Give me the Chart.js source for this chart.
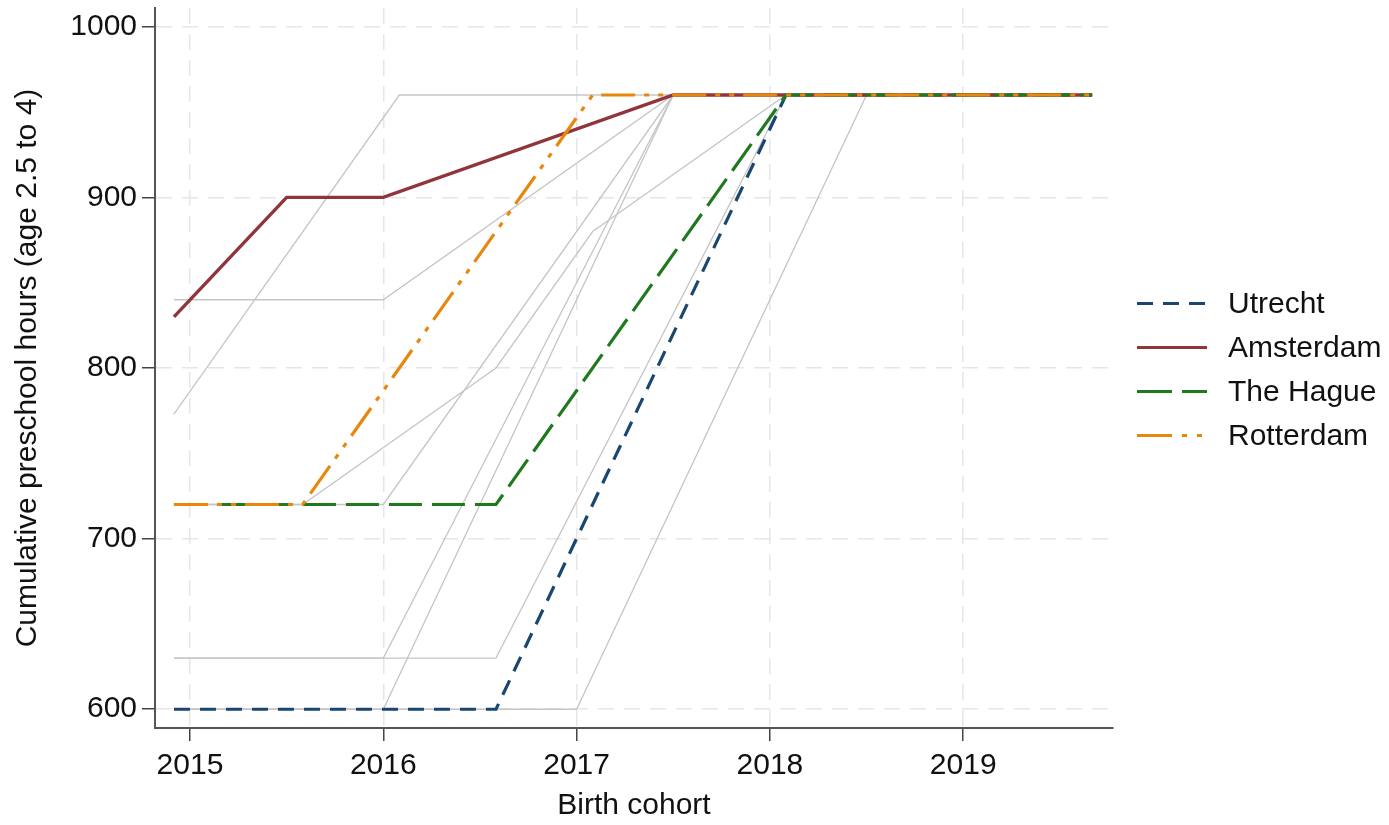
<!DOCTYPE html>
<html><head><meta charset="utf-8">
<script src="https://cdn.jsdelivr.net/npm/chart.js@4.4.1/dist/chart.umd.min.js"></script>
<style>html,body{margin:0;padding:0;background:#fff}canvas{display:block}</style>
</head><body>
<canvas id="c" width="1389" height="825"></canvas>
<script>
// ---- tick labels ----
const xTicks = [2015, 2016, 2017, 2018, 2019];
const yTicks = [600, 700, 800, 900, 1000];

// ---- highlighted cities (birth cohort -> cumulative hours) ----
const cityNames = ['Utrecht', 'Amsterdam', 'The Hague', 'Rotterdam'];
const utrechtX   = [2014.917, 2016.583, 2018.083, 2019.667];
const utrechtY   = [600, 600, 960, 960];
const amsterdamX = [2014.917, 2015.5, 2016.0, 2017.5, 2019.667];
const amsterdamY = [830, 900, 900, 960, 960];
const hagueX     = [2014.917, 2016.583, 2018.083, 2019.667];
const hagueY     = [720, 720, 960, 960];
const rotterdamX = [2014.917, 2015.583, 2017.083, 2019.667];
const rotterdamY = [720, 720, 960, 960];

// ---- other municipalities (grey background lines) ----
const other1X = [2014.917, 2016.0, 2017.5, 2019.667];
const other1Y = [840, 840, 960, 960];
const other2X = [2014.917, 2016.083, 2019.667];
const other2Y = [773, 960, 960];
const other3X = [2014.917, 2016.583, 2018.083, 2019.667];
const other3Y = [630, 630, 960, 960];
const other4X = [2014.917, 2016.0, 2017.5, 2019.667];
const other4Y = [720, 720, 960, 960];
const other5X = [2014.917, 2015.583, 2016.583, 2017.083, 2018.083, 2019.667];
const other5Y = [720, 720, 800, 880, 960, 960];
const other6X = [2014.917, 2016.0, 2017.5, 2019.667];
const other6Y = [600, 600, 960, 960];
const other7X = [2014.917, 2016.0, 2017.5, 2019.667];
const other7Y = [630, 630, 960, 960];
const other8X = [2014.917, 2017.0, 2018.5, 2019.667];
const other8Y = [600, 600, 960, 960];

const zip = (xs, ys) => xs.map((x, i) => ({x: x, y: ys[i]}));

const FONT = '"Liberation Sans", Arial, Helvetica, sans-serif';
Chart.defaults.font.family = FONT;
Chart.defaults.color = '#111';

const greyPairs = [[other1X,other1Y],[other2X,other2Y],[other3X,other3Y],[other4X,other4Y],
                   [other5X,other5Y],[other6X,other6Y],[other7X,other7Y],[other8X,other8Y]];
const greySets = greyPairs.map((p, i) => ({
  label: 'other' + (i+1), data: zip(p[0], p[1]), borderColor: '#c6c6c6', borderWidth: 1.3,
  pointRadius: 0, order: 10, legend: false
}));

const hl = [
  {label: cityNames[0], data: zip(utrechtX, utrechtY), borderColor: '#1a476f', borderWidth: 3.2,
   borderDash: [16, 10], legendDash: [16, 10], order: 3},
  {label: cityNames[1], data: zip(amsterdamX, amsterdamY), borderColor: '#90353b', borderWidth: 3.4,
   borderDash: [], legendDash: [], order: 2},
  {label: cityNames[2], data: zip(hagueX, hagueY), borderColor: '#1f7a1f', borderWidth: 3.2,
   borderDash: [33, 10], legendDash: [35, 10], order: 1},
  {label: cityNames[3], data: zip(rotterdamX, rotterdamY), borderColor: '#e8870e', borderWidth: 3.2,
   borderDash: [34, 9, 5, 9, 5, 9], legendDash: [35, 10, 5, 10, 5, 10], order: 0}
].map(d => Object.assign(d, {pointRadius: 0, legend: true}));

const sideLegend = {
  id: 'sideLegend',
  afterDraw(chart) {
    const ctx = chart.ctx, ca = chart.chartArea;
    const items = chart.data.datasets.filter(d => d.legend);
    const rowH = 43.7;
    const cy = (ca.top + ca.bottom) / 2 + 1;
    const y0 = cy - rowH * (items.length - 1) / 2;
    ctx.save();
    items.forEach((d, i) => {
      const y = Math.round(y0 + i * rowH);
      ctx.strokeStyle = d.borderColor;
      ctx.lineWidth = 3.2;
      ctx.lineCap = 'butt';
      ctx.setLineDash(d.legendDash);
      ctx.beginPath();
      ctx.moveTo(ca.right + 24, y + 0.5);
      ctx.lineTo(ca.right + 94, y + 0.5);
      ctx.stroke();
      ctx.setLineDash([]);
      ctx.fillStyle = '#111';
      ctx.font = '30px ' + FONT;
      ctx.textAlign = 'left';
      ctx.textBaseline = 'middle';
      ctx.fillText(d.label, ca.right + 115, y + 2);
    });
    ctx.restore();
  }
};

new Chart(document.getElementById('c'), {
  type: 'line',
  data: {datasets: greySets.concat(hl)},
  options: {
    responsive: false, animation: false, devicePixelRatio: 1,
    layout: {padding: {top: 8, right: 276, left: 0, bottom: 0}},
    plugins: {legend: {display: false}, tooltip: {enabled: false}},
    elements: {line: {tension: 0, borderCapStyle: 'butt', borderJoinStyle: 'miter'}},
    scales: {
      x: {
        type: 'linear', min: 2014.819, max: 2019.775,
        afterBuildTicks: s => { s.ticks = xTicks.map(v => ({value: v})); },
        afterFit: s => { s.height = 97; s.paddingLeft = 0; s.paddingRight = 0; },
        ticks: {callback: v => String(v), font: {size: 30}, color: '#111', padding: 7, maxRotation: 0, autoSkip: false},
        grid: {color: '#e6e6e6', lineWidth: 1.5, tickColor: '#444', tickWidth: 1.5, tickLength: 13, tickBorderDash: []},
        border: {display: true, color: '#555', width: 2, dash: [16, 10]},
        title: {display: true, text: 'Birth cohort', font: {size: 30}, color: '#111', padding: {top: 0, bottom: 1}}
      },
      y: {
        type: 'linear', min: 589, max: 1011,
        afterBuildTicks: s => { s.ticks = yTicks.map(v => ({value: v})); },
        afterFit: s => { s.width = 155; s.paddingTop = 0; s.paddingBottom = 0; },
        ticks: {callback: v => String(v), font: {size: 30}, color: '#111', padding: 5, autoSkip: false},
        grid: {color: '#e6e6e6', lineWidth: 1.5, tickColor: '#444', tickWidth: 1.5, tickLength: 13, tickBorderDash: []},
        border: {display: true, color: '#555', width: 2, dash: [16, 10]},
        title: {display: true, text: 'Cumulative preschool hours (age 2.5 to 4)', font: {size: 30}, color: '#111', padding: {top: 10, bottom: 0}}
      }
    }
  },
  plugins: [sideLegend]
});
</script>
</body></html>
